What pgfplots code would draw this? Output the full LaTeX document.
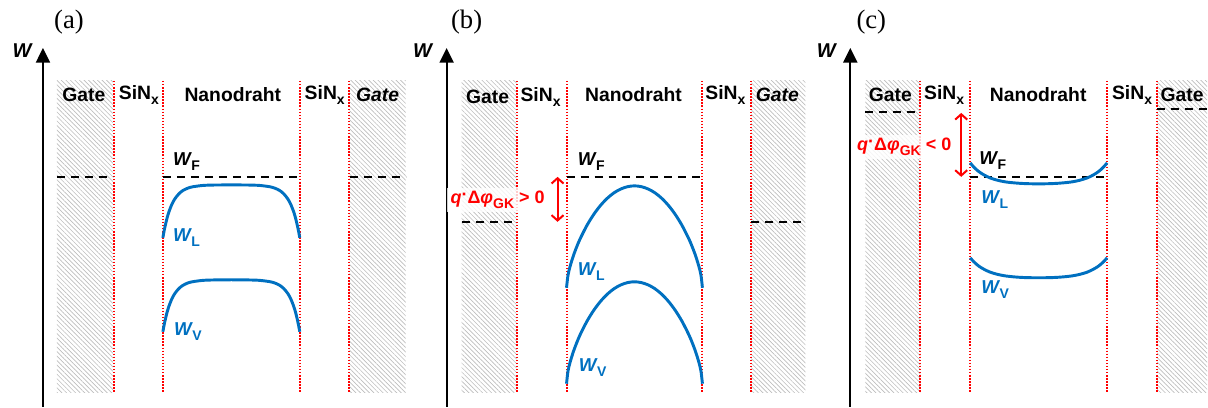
\documentclass[border=0pt]{standalone}
\usepackage{fontspec}
\setmainfont{Liberation Sans}
\newfontfamily\serif{Liberation Serif}
\usepackage{pgfplots}
\pgfplotsset{compat=1.18}
\usetikzlibrary{patterns.meta,arrows.meta}
\definecolor{band}{HTML}{0070C0}
\newcommand\sub[1]{\raisebox{-0.5ex}{\fontsize{10.5}{12}\selectfont #1}}
\newcommand\Wlab[1]{\textit{W}\kern-0.5pt\sub{#1}}

\begin{document}
\begin{tikzpicture}[
  gate/.style={draw=none, pattern={Lines[angle=-45,distance=2.4pt,line width=0.5pt]}, pattern color=black!26},
  iface/.style={red, line width=1.5pt, dash pattern=on 1.1pt off 1.2pt},
  fermi/.style={black, line width=1.5pt, dash pattern=on 6pt off 4.5pt},
  bandline/.style={band, line width=2.2pt, smooth},
  waxis/.style={black, line width=1.5pt, -{Triangle[length=11pt,width=10.5pt]}},
  dphi/.style={red, line width=1.5pt, {Straight Barb[length=4pt,width=9pt]}-{Straight Barb[length=4pt,width=9pt]}},
  lbl/.style={font=\bfseries\fontsize{14.5}{17}\selectfont},
  wlbl/.style={font=\bfseries\fontsize{14}{17}\selectfont, anchor=west, inner sep=0pt},
  redlbl/.style={font=\bfseries\fontsize{13.5}{16}\selectfont, text=red, fill=white, fill opacity=0.8, text opacity=1, inner sep=2.5pt},
]
\begin{axis}[
  scale only axis, width=906pt, height=305.25pt,
  xmin=0, xmax=1208, ymin=0, ymax=407, y dir=reverse,
  axis line style={draw=none}, xtick=\empty, ytick=\empty, clip=false,
]
% ---------- gate regions (hatched) ----------
\addplot[gate] coordinates {(57,81) (113,81) (113,393) (57,393)} -- cycle;
\addplot[gate] coordinates {(350,81) (406,81) (406,393) (350,393)} -- cycle;
\addplot[gate] coordinates {(462,81) (517,81) (517,393) (462,393)} -- cycle;
\addplot[gate] coordinates {(752,81) (806,81) (806,393) (752,393)} -- cycle;
\addplot[gate] coordinates {(866,81) (921,81) (921,393) (866,393)} -- cycle;
\addplot[gate] coordinates {(1158,81) (1208,81) (1208,393) (1158,393)} -- cycle;

% ---------- interfaces ----------
\addplot[iface] coordinates {(114,81) (114,393)};
\addplot[iface] coordinates {(163,81) (163,393)};
\addplot[iface] coordinates {(300,81) (300,393)};
\addplot[iface] coordinates {(349,81) (349,393)};
\addplot[iface] coordinates {(517,81) (517,393)};
\addplot[iface] coordinates {(567,81) (567,393)};
\addplot[iface] coordinates {(703,81) (703,393)};
\addplot[iface] coordinates {(752,81) (752,393)};
\addplot[iface] coordinates {(921,81) (921,393)};
\addplot[iface] coordinates {(971,81) (971,393)};
\addplot[iface] coordinates {(1108,81) (1108,393)};
\addplot[iface] coordinates {(1158,81) (1158,393)};

% ---------- Fermi levels ----------
\addplot[fermi] coordinates {(57,177) (113,177)};
\addplot[fermi] coordinates {(163,177) (300,177)};
\addplot[fermi] coordinates {(350,177) (406,177)};
\addplot[fermi] coordinates {(462,222) (517,222)};
\addplot[fermi] coordinates {(567,177) (703,177)};
\addplot[fermi] coordinates {(752,222) (806,222)};
\addplot[fermi] coordinates {(866,112) (921,112)};
\addplot[fermi] coordinates {(971,177) (1108,177)};
\addplot[fermi] coordinates {(1158,109) (1208,109)};

% ---------- bands (a): flat band ----------
\addplot[bandline] coordinates {
 (163,238) (164,232.4) (165,227.5) (167,219) (169,212.2) (172,204.5) (175,199)
 (179,194) (183,190.7) (188,188.3) (193,186.9) (203,185.6) (213,185.2) (223,185.1)
 (231.5,185) (240,185.1) (250,185.2) (260,185.6) (270,186.9) (275,188.3) (280,190.7)
 (284,194) (288,199) (291,204.5) (294,212.2) (296,219) (298,227.5) (299,232.4) (300,238)};
\addplot[bandline] coordinates {
 (163,332) (164,326.5) (165,321.7) (167,313.3) (169,306.7) (172,299.1) (175,293.7)
 (179,288.8) (183,285.6) (188,283.2) (193,281.9) (203,280.6) (213,280.2) (223,280.1)
 (231.5,280) (240,280.1) (250,280.2) (260,280.6) (270,281.9) (275,283.2) (280,285.6)
 (284,288.8) (288,293.7) (291,299.1) (294,306.7) (296,313.3) (298,321.7) (299,326.5) (300,332)};

% ---------- bands (b): depletion ----------
\addplot[bandline] coordinates {
 (567,288) (568.4,275.8) (570.4,267.1) (573.8,256.1) (577.2,247.0) (580.6,239.0)
 (587.4,225.6) (594.2,214.6) (601,205.6) (607.8,198.4) (614.6,192.9) (621.4,189.1)
 (628.2,186.8) (635,186) (641.8,186.8) (648.6,189.1) (655.4,192.9) (662.2,198.4)
 (669,205.6) (675.8,214.6) (682.6,225.6) (689.4,239.0) (692.8,247.0) (696.2,256.1)
 (699.6,267.1) (701.6,275.8) (703,288)};
\addplot[bandline] coordinates {
 (567,384) (568.4,371.8) (570.4,363.1) (573.8,352.1) (577.2,343.0) (580.6,335.0)
 (587.4,321.6) (594.2,310.6) (601,301.6) (607.8,294.4) (614.6,288.9) (621.4,285.1)
 (628.2,282.8) (635,282) (641.8,282.8) (648.6,285.1) (655.4,288.9) (662.2,294.4)
 (669,301.6) (675.8,310.6) (682.6,321.6) (689.4,335.0) (692.8,343.0) (696.2,352.1)
 (699.6,363.1) (701.6,371.8) (703,384)};

% ---------- bands (c): accumulation ----------
\addplot[bandline] coordinates {
 (971,163) (973,165.4) (976,168.6) (980,172.0) (985,175.2) (991,178.1) (998,180.3)
 (1006,182.0) (1016,183.1) (1026,183.75) (1039.5,184) (1053,183.75) (1063,183.1)
 (1073,182.0) (1081,180.3) (1088,178.1) (1094,175.2) (1099,172.0) (1103,168.6)
 (1106,165.4) (1108,163)};
\addplot[bandline] coordinates {
 (971,258) (973,260.3) (976,263.3) (980,266.6) (985,269.6) (991,272.4) (998,274.5)
 (1006,276.1) (1016,277.2) (1026,277.8) (1039.5,278) (1053,277.8) (1063,277.2)
 (1073,276.1) (1081,274.5) (1088,272.4) (1094,269.6) (1099,266.6) (1103,263.3)
 (1106,260.3) (1108,258)};

% ---------- energy axes ----------
\addplot[waxis] coordinates {(43,407) (43,48)};
\addplot[waxis] coordinates {(447,407) (447,48)};
\addplot[waxis] coordinates {(851,407) (851,48)};

% ---------- potential difference arrows ----------
\addplot[dphi] coordinates {(558,177) (558,222)};
\addplot[dphi] coordinates {(962,113) (962,177)};

% ---------- panel letters ----------
\node[font=\serif\fontsize{20}{24}\selectfont] at (axis cs:69,22) {(a)};
\node[font=\serif\fontsize{20}{24}\selectfont] at (axis cs:467,22) {(b)};
\node[font=\serif\fontsize{20}{24}\selectfont] at (axis cs:872,22) {(c)};

% ---------- axis names ----------
\node[font=\bfseries\itshape\fontsize{15}{17}\selectfont] at (axis cs:22,51) {W};
\node[font=\bfseries\itshape\fontsize{15}{17}\selectfont] at (axis cs:423,51) {W};
\node[font=\bfseries\itshape\fontsize{15}{17}\selectfont] at (axis cs:827,51) {W};

% ---------- layer names ----------
\node[lbl] at (axis cs:84,95) {Gate};
\node[lbl] at (axis cs:139,95) {SiN\sub{x}};
\node[lbl] at (axis cs:233,95) {Nanodraht};
\node[lbl] at (axis cs:325,95) {SiN\sub{x}};
\node[lbl] at (axis cs:378,95) {\itshape Gate};

\node[lbl] at (axis cs:488,97) {Gate};
\node[lbl] at (axis cs:541,97) {SiN\sub{x}};
\node[lbl] at (axis cs:634,95) {Nanodraht};
\node[lbl] at (axis cs:726,95) {SiN\sub{x}};
\node[lbl] at (axis cs:778,95) {\itshape Gate};

\node[lbl] at (axis cs:891,95) {Gate};
\node[lbl] at (axis cs:945,95) {SiN\sub{x}};
\node[lbl] at (axis cs:1039,95) {Nanodraht};
\node[lbl] at (axis cs:1133,95) {SiN\sub{x}};
\node[lbl] at (axis cs:1183,95) {Gate};

% ---------- band labels ----------
\node[wlbl] at (axis cs:173,162) {\Wlab{F}};
\node[wlbl, text=band] at (axis cs:173,238) {\Wlab{L}};
\node[wlbl, text=band] at (axis cs:174,332) {\Wlab{V}};

\node[wlbl] at (axis cs:578,162) {\Wlab{F}};
\node[wlbl, text=band] at (axis cs:578,272) {\Wlab{L}};
\node[wlbl, text=band] at (axis cs:579,368) {\Wlab{V}};

\node[wlbl] at (axis cs:980,161) {\Wlab{F}};
\node[wlbl, text=band] at (axis cs:982,200) {\Wlab{L}};
\node[wlbl, text=band] at (axis cs:982,290) {\Wlab{V}};

% ---------- gate-to-channel potential ----------
\node[redlbl] at (axis cs:498,200) {\textit{q}\raisebox{0.35ex}{·}Δ\textit{φ}\sub{GK} > 0};
\node[redlbl] at (axis cs:905,147) {\textit{q}\raisebox{0.35ex}{·}Δ\textit{φ}\sub{GK} < 0};
\end{axis}
\end{tikzpicture}
\end{document}
